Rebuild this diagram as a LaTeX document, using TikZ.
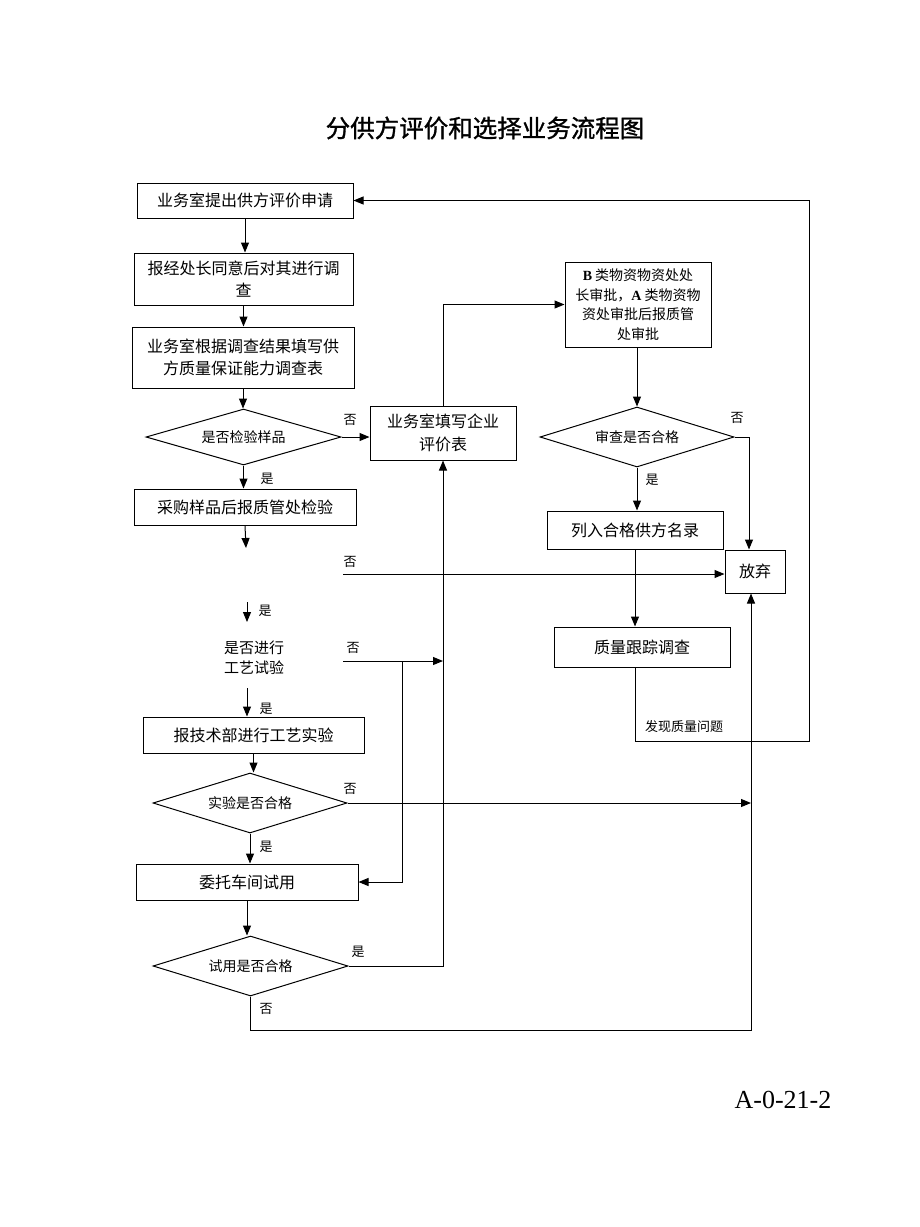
\documentclass[tikz,border=0pt]{standalone}
\usepackage{fontspec}
\setmainfont{Noto Sans CJK SC}
\newfontfamily\latserif{Liberation Serif}
\newfontfamily\titlefont[FakeBold=1.2]{Noto Sans CJK SC}
\usetikzlibrary{positioning, shapes.geometric, arrows.meta, calc}

\tikzset{
  procbox/.style={draw, line width=1pt, align=center, inner sep=1pt,
    font=\fontsize{16}{22.5}\selectfont},
  askbox/.style={draw, diamond, aspect=3.5, line width=1pt, inner sep=0pt, align=center,
    font=\fontsize{14}{16}\selectfont},
  arr/.style={-{Triangle[length=10pt,width=8pt]}, line width=1pt},
  yesno/.style={font=\fontsize{13}{15}\selectfont}
}

\begin{document}
\begin{tikzpicture}[x=1pt, y=-1pt]
  \useasboundingbox (0,0) rectangle (920,1227);
  % Title
  \node[font=\titlefont\fontsize{24.5}{28}\selectfont] (title) at (485,128) {分供方评价和选择业务流程图};
  % Left column
  \node[procbox, minimum width=216, minimum height=35] (req) at (245,200.5) {业务室提出供方评价申请};
  \node[procbox, minimum width=219, minimum height=52] (appr) at (243.5,279) {报经处长同意后对其进行调\\查};
  \node[procbox, minimum width=222, minimum height=61] (fill) at (243,357.5) {业务室根据调查结果填写供\\方质量保证能力调查表};
  \node[askbox, minimum width=195, minimum height=56] (dsample) at (243.5,437) {是否检验样品};
  \node[procbox, minimum width=222, minimum height=36] (buy) at (245,507) {采购样品后报质管处检验};
  \node[font=\fontsize{15}{20}\selectfont, align=center] (craft) at (254,658) {是否进行\\工艺试验};
  \node[procbox, minimum width=221, minimum height=36] (tech) at (253.5,735) {报技术部进行工艺实验};
  \node[askbox, minimum width=194, minimum height=60] (dtest) at (250,803) {实验是否合格};
  \node[procbox, minimum width=222, minimum height=36] (trial) at (247,882) {委托车间试用};
  \node[askbox, minimum width=195, minimum height=60] (dtrial) at (250.5,966) {试用是否合格};
  % Middle and right column
  \node[procbox, minimum width=146, minimum height=54] (eval) at (443,433) {业务室填写企业\\评价表};
  \node[procbox, minimum width=146, minimum height=85, font=\fontsize{14}{19.5}\selectfont] (approveB) at (638,304.5)
    {{\latserif\bfseries B} 类物资物资处处\\长审批，{\latserif\bfseries A} 类物资物\\资处审批后报质管\\处审批};
  \node[askbox, minimum width=194, minimum height=60] (dcheck) at (637,437) {审查是否合格};
  \node[procbox, minimum width=176, minimum height=38] (list) at (635,530) {列入合格供方名录};
  \node[procbox, minimum width=176, minimum height=40] (track) at (642,647) {质量跟踪调查};
  \node[procbox, minimum width=60, minimum height=43] (quit) at (755,571.5) {放弃};
  % Free ends
  \coordinate (c1) at (246,548);
  \coordinate (c2) at (343,574);
  \coordinate (c3) at (247,602);
  \coordinate (c4) at (247,622);
  \coordinate (c5) at (247,688);
  \coordinate (c6) at (343,661);
  \coordinate (c7) at (402,661);
  \coordinate (c8) at (809,741);
  \coordinate (back) at (751,1030);
  % Arrows down the left column
  \draw[arr] (req.south) -- (req.south |- appr.north);
  \draw[arr] (appr.south) -- (appr.south |- fill.north);
  \draw[arr] (fill.south) -- (fill.south |- dsample.north);
  \draw[arr] (dsample.south) -- (dsample.south |- buy.north);
  \draw[arr] (buy.south) -- (c1);
  \draw[arr] (c3) -- (c4);
  \draw[arr] (c5) -- (c5 |- tech.north);
  \draw[arr] (tech.south) -- (tech.south |- dtest.north);
  \draw[arr] (dtest.south) -- (dtest.south |- trial.north);
  \draw[arr] (trial.south) -- (trial.south |- dtrial.north);
  % Branches
  \draw[arr] (dsample.east) -- (dsample.east -| eval.west);
  \draw[arr] (c2) -- (c2 -| quit.west);
  \draw[arr] (c6) -- (c6 -| eval.south);
  \draw[line width=1pt, -{Triangle[length=10pt,width=8pt]}] (c7) |- (trial.east);
  \draw[arr] (dtrial.east) -| (eval.south);
  \draw[arr] (eval.north) |- (approveB.west);
  \draw[arr] (dtest.east) -- (dtest.east -| back);
  \draw[arr] (dtrial.south) |- (back) -- (back |- quit.south);
  % Right column
  \draw[arr] (approveB.south -| dcheck.north) -- (dcheck.north);
  \draw[arr] (dcheck.south) -- (dcheck.south |- list.north);
  \draw[arr] (dcheck.east) -| ($(quit.north)+(-6,0)$);
  \draw[arr] (list.south) -- (list.south |- track.north);
  \draw[arr] (list.south |- track.south) |- (c8) |- (req.east);
  % Labels
  \node[yesno] (n1) at (350,420) {否};
  \node[yesno] (y1) at (267,479) {是};
  \node[yesno] (n2) at (350,562) {否};
  \node[yesno] (y2) at (265,611) {是};
  \node[yesno] (n3) at (353,648) {否};
  \node[yesno] (y3) at (266,709) {是};
  \node[yesno] (n4) at (350,789) {否};
  \node[yesno] (y4) at (266,847) {是};
  \node[yesno] (y5) at (358,952) {是};
  \node[yesno] (n5) at (266,1009) {否};
  \node[yesno] (n6) at (737,418) {否};
  \node[yesno] (y6) at (652,480) {是};
  \node[yesno] (issue) at (684,727) {发现质量问题};
  % Form number
  \node[font=\latserif\fontsize{26}{30}\selectfont] (formno) at (783,1100) {A-0-21-2};
\end{tikzpicture}
\end{document}
